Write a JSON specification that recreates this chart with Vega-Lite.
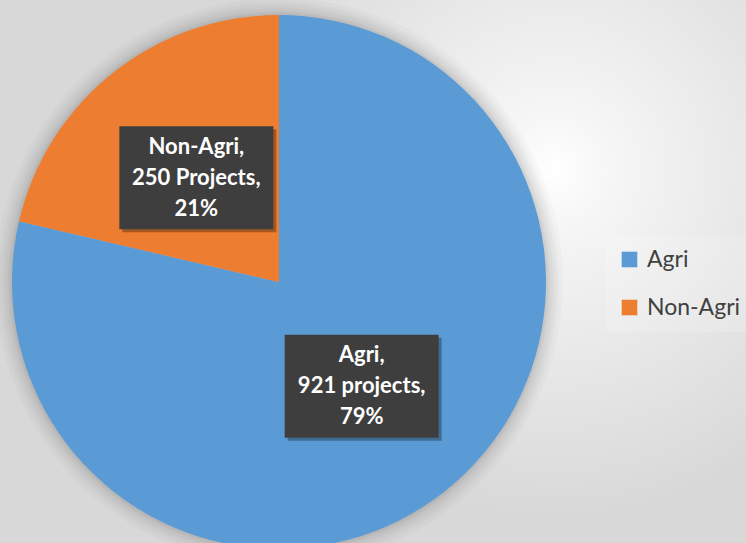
{
  "$schema": "https://vega.github.io/schema/vega-lite/v6.json",
  "width": 934,
  "height": 564,
  "autosize": {"type": "none"},
  "padding": {"left": -188, "top": 0, "right": 0, "bottom": 0},
  "background": "#dcdcdc",
  "view": {
    "stroke": null,
    "fill": {
      "gradient": "radial",
      "x1": 0.795, "y1": 0.38, "r1": 0,
      "x2": 0.795, "y2": 0.38, "r2": 0.75,
      "stops": [
        {"offset": 0, "color": "#ffffff"},
        {"offset": 0.08, "color": "#f6f6f6"},
        {"offset": 0.3, "color": "#e6e6e6"},
        {"offset": 0.5, "color": "#d8d8d8"},
        {"offset": 1, "color": "#d8d8d8"}
      ]
    }
  },
  "data": {
    "values": [
      {"category": "Agri", "projects": 921, "label": ["Agri,", "921 projects,", "79%"]},
      {"category": "Non-Agri", "projects": 250, "label": ["Non-Agri,", "250 Projects,", "21%"]}
    ]
  },
  "transform": [
    {"joinaggregate": [{"op": "sum", "field": "projects", "as": "total"}]},
    {"window": [{"op": "sum", "field": "projects", "as": "cum"}], "sort": [{"field": "category"}], "frame": [null, 0]},
    {"calculate": "(datum.cum - datum.projects / 2) / datum.total * 2 * PI", "as": "mid"},
    {"calculate": "133 * sin(datum.mid)", "as": "bx"},
    {"calculate": "133 * cos(datum.mid)", "as": "by"}
  ],
  "layer": [
    {
      "mark": {"type": "arc", "outerRadius": 284, "opacity": 0.018},
      "encoding": {"theta": {"field": "projects", "type": "quantitative", "stack": true}, "order": {"field": "category"}, "color": {"value": "#000000"}}
    },
    {
      "mark": {"type": "arc", "outerRadius": 280, "opacity": 0.022},
      "encoding": {"theta": {"field": "projects", "type": "quantitative", "stack": true}, "order": {"field": "category"}, "color": {"value": "#000000"}}
    },
    {
      "mark": {"type": "arc", "outerRadius": 277, "opacity": 0.025},
      "encoding": {"theta": {"field": "projects", "type": "quantitative", "stack": true}, "order": {"field": "category"}, "color": {"value": "#000000"}}
    },
    {
      "mark": {"type": "arc", "outerRadius": 274, "opacity": 0.028},
      "encoding": {"theta": {"field": "projects", "type": "quantitative", "stack": true}, "order": {"field": "category"}, "color": {"value": "#000000"}}
    },
    {
      "mark": {"type": "arc", "outerRadius": 271, "opacity": 0.03},
      "encoding": {"theta": {"field": "projects", "type": "quantitative", "stack": true}, "order": {"field": "category"}, "color": {"value": "#000000"}}
    },
    {
      "mark": {"type": "arc", "outerRadius": 269, "opacity": 0.035},
      "encoding": {"theta": {"field": "projects", "type": "quantitative", "stack": true}, "order": {"field": "category"}, "color": {"value": "#000000"}}
    },
    {
      "mark": {"type": "arc", "outerRadius": 267},
      "encoding": {
        "theta": {"field": "projects", "type": "quantitative", "stack": true},
        "order": {"field": "category"},
        "color": {
          "field": "category",
          "type": "nominal",
          "scale": {"domain": ["Agri", "Non-Agri"], "range": ["#5B9BD5", "#ED7D31"]},
          "legend": {
            "title": null,
            "orient": "none",
            "legendX": 794,
            "legendY": 236,
            "padding": 12,
            "fillColor": "rgba(255,255,255,0.15)",
            "symbolType": "square",
            "symbolSize": 243,
            "symbolStrokeWidth": 0,
            "symbolOpacity": 1,
            "labelFont": "Lato",
            "labelFontSize": 23,
            "labelColor": "#404040",
            "labelOffset": 6,
            "rowPadding": 24
          }
        }
      }
    },
    {
      "mark": {
        "type": "point",
        "shape": "M-1,-0.669L1,-0.669L1,0.669L-1,0.669Z",
        "filled": true,
        "size": 23716,
        "opacity": 0.3,
        "xOffset": 3,
        "yOffset": 3
      },
      "encoding": {
        "x": {"field": "bx", "type": "quantitative", "scale": {"domain": [-467, 467], "zero": false, "nice": false}, "axis": null},
        "y": {"field": "by", "type": "quantitative", "scale": {"domain": [-282, 282], "zero": false, "nice": false}, "axis": null},
        "color": {"value": "#000000"}
      }
    },
    {
      "mark": {
        "type": "point",
        "shape": "M-1,-0.669L1,-0.669L1,0.669L-1,0.669Z",
        "filled": true,
        "size": 23716,
        "opacity": 1
      },
      "encoding": {
        "x": {"field": "bx", "type": "quantitative"},
        "y": {"field": "by", "type": "quantitative"},
        "color": {"value": "#3e3e3e"}
      }
    },
    {
      "mark": {
        "type": "text",
        "font": "Lato",
        "fontSize": 22,
        "fontWeight": "bold",
        "color": "#ffffff",
        "align": "center",
        "baseline": "middle",
        "lineHeight": 31,
        "dy": -31
      },
      "encoding": {
        "x": {"field": "bx", "type": "quantitative"},
        "y": {"field": "by", "type": "quantitative"},
        "text": {"field": "label", "type": "nominal"}
      }
    }
  ]
}
